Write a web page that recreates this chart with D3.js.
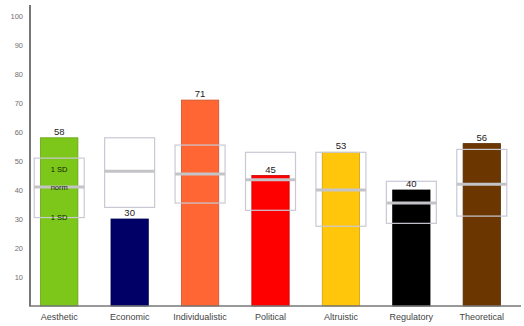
<!DOCTYPE html>
<html>
<head>
<meta charset="utf-8">
<script src="https://cdn.jsdelivr.net/npm/d3@7"></script>
<style>
  body { margin: 0; background: #fff; }
  svg { display: block; font-family: "Liberation Sans", Arial, sans-serif; }
</style>
</head>
<body>
<div class="chart_wrapper"></div>
<script>
// scores per category
const categories = ["Aesthetic", "Economic", "Individualistic", "Political", "Altruistic", "Regulatory", "Theoretical"]
const scores = [58, 30, 71, 45, 53, 40, 56]
const barColors = ["#7dc71a", "#000066", "#ff6633", "#ff0000", "#ffc60b", "#000000", "#6b3600"]

// norm band (norm +/- 1 SD)
const normValues = [41, 46.5, 45.5, 43.5, 40, 35.5, 42]
const sdUpper = [51, 58, 55.5, 53, 53, 43, 54]
const sdLower = [30.5, 34, 35.5, 33, 27.5, 28.5, 31]

const yTicks = [10, 20, 30, 40, 50, 60, 70, 80, 90, 100]

function drawChart () {

  let dimensions = {
    width: 524,
    height: 326,
  }

  const wrapper = d3.select(".chart_wrapper")
    .append("svg")
      .attr("width", dimensions.width)
      .attr("height", dimensions.height)

  const yScale = d3.scaleLinear()
    .domain([0, 100])
    .range([306, 16])

  const xScale = d3.scaleBand()
    .domain(categories)
    .range([24, 517])
    .paddingInner(0.47)
    .paddingOuter(0.235)

  const data = categories.map((c, i) => ({
    name: c,
    score: scores[i],
    color: barColors[i],
    norm: normValues[i],
    hi: sdUpper[i],
    lo: sdLower[i],
  }))

  // y axis, no tick marks
  const yAxis = d3.axisLeft(yScale)
    .tickValues(yTicks)
    .tickSize(0)
    .tickPadding(7)

  const yG = wrapper.append("g")
    .attr("transform", "translate(30,0)")
    .call(yAxis)
  yG.select(".domain").remove()
  yG.selectAll("text")
    .attr("fill", "#707070")
    .style("font-size", "7.5px")

  // bars
  wrapper.selectAll(".bar")
    .data(data)
    .enter()
    .append("rect")
      .attr("class", "bar")
      .attr("x", d => xScale(d.name))
      .attr("width", xScale.bandwidth())
      .attr("y", d => yScale(d.score))
      .attr("height", d => yScale(0) - yScale(d.score))
      .attr("fill", d => d.color)
      .attr("stroke", d => d3.color(d.color).darker(0.6))
      .attr("stroke-width", 0.8)

  const boxHalf = 25

  // 1 SD boxes
  wrapper.selectAll(".sdbox")
    .data(data)
    .enter()
    .append("rect")
      .attr("class", "sdbox")
      .attr("x", d => xScale(d.name) + xScale.bandwidth() / 2 - boxHalf)
      .attr("width", boxHalf * 2)
      .attr("y", d => yScale(d.hi))
      .attr("height", d => yScale(d.lo) - yScale(d.hi))
      .attr("fill", "none")
      .attr("stroke", "#c9c9d6")
      .attr("stroke-width", 1.2)

  // norm lines
  wrapper.selectAll(".normline")
    .data(data)
    .enter()
    .append("line")
      .attr("class", "normline")
      .attr("x1", d => xScale(d.name) + xScale.bandwidth() / 2 - boxHalf)
      .attr("x2", d => xScale(d.name) + xScale.bandwidth() / 2 + boxHalf)
      .attr("y1", d => yScale(d.norm))
      .attr("y2", d => yScale(d.norm))
      .attr("stroke", "#c4c4c8")
      .attr("stroke-width", 3)

  // value labels
  wrapper.selectAll(".valuelabel")
    .data(data)
    .enter()
    .append("text")
      .attr("class", "valuelabel")
      .attr("x", d => xScale(d.name) + xScale.bandwidth() / 2)
      .attr("y", d => yScale(d.score) - 3)
      .attr("text-anchor", "middle")
      .attr("fill", "#222")
      .style("font-size", "9.5px")
      .text(d => d.score)

  // labels on the first bar
  const first = data[0]
  const cx = xScale(first.name) + xScale.bandwidth() / 2
  const sdLabels = [
    { v: (first.hi + first.norm) / 2 + 1, t: "1 SD" },
    { v: first.norm, t: "norm" },
    { v: first.lo, t: "1 SD" },
  ]
  wrapper.selectAll(".sdlabel")
    .data(sdLabels)
    .enter()
    .append("text")
      .attr("class", "sdlabel")
      .attr("x", cx)
      .attr("y", d => yScale(d.v) + 2.5)
      .attr("text-anchor", "middle")
      .attr("fill", "#0d2200")
      .style("font-size", "7.5px")
      .text(d => d.t)

  // axis lines
  wrapper.append("line")
    .attr("x1", 30).attr("x2", 30)
    .attr("y1", 5).attr("y2", yScale(0))
    .attr("stroke", "#777")
    .attr("stroke-width", 2)

  wrapper.append("line")
    .attr("x1", 29).attr("x2", 521)
    .attr("y1", yScale(0)).attr("y2", yScale(0))
    .attr("stroke", "#777")
    .attr("stroke-width", 1.5)

  // category labels
  wrapper.selectAll(".catlabel")
    .data(data)
    .enter()
    .append("text")
      .attr("class", "catlabel")
      .attr("x", d => xScale(d.name) + xScale.bandwidth() / 2)
      .attr("y", 320)
      .attr("text-anchor", "middle")
      .attr("fill", "#444")
      .style("font-size", "9px")
      .text(d => d.name)
}
drawChart()
</script>
</body>
</html>
